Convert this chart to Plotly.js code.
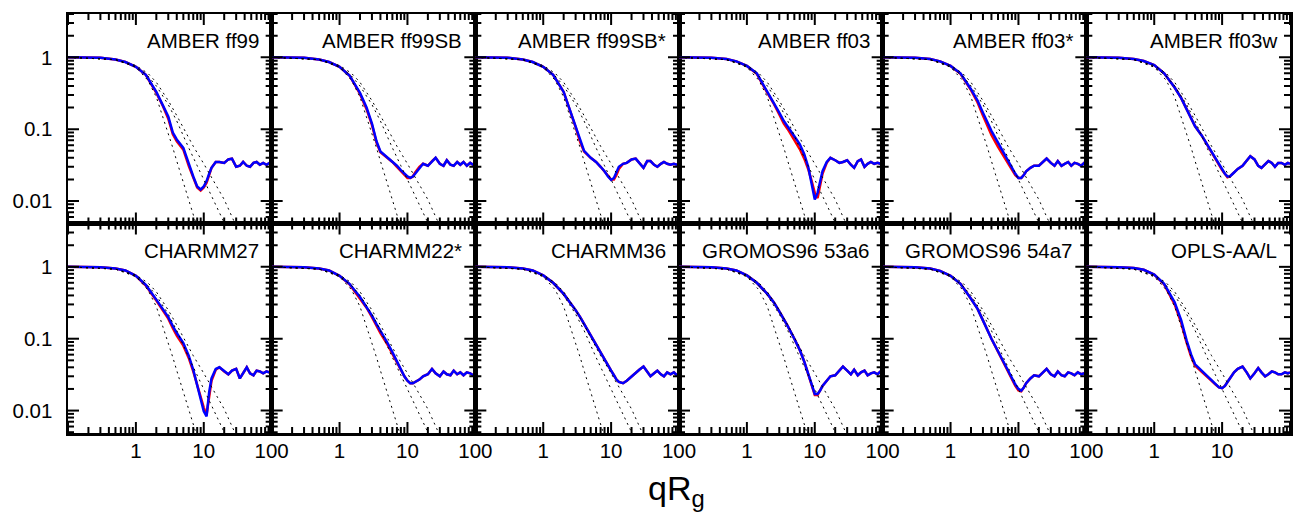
<!DOCTYPE html>
<html>
<head>
<meta charset="utf-8">
<script src="https://cdn.plot.ly/plotly-3.0.1.min.js"></script>
<style>html,body{margin:0;padding:0;background:#fff;}#chart{width:1301px;height:513px;}</style>
</head>
<body>
<div id="chart"></div>
<script>
// ---- data (qRg grid, I(q)/I(0)) ----
const qrg = [0.1,0.3,0.5,0.7,1,1.4,2,2.5,3,3.5,4,5,6,7,8,9,10,11,12,13,15,17,20,23,26,30,34,38,43,48,54,60,67,75,84,93,100];

const panelNames = ['AMBER ff99','AMBER ff99SB','AMBER ff99SB*','AMBER ff03','AMBER ff03*','AMBER ff03w',
                    'CHARMM27','CHARMM22*','CHARMM36','GROMOS96 53a6','GROMOS96 54a7','OPLS-AA/L'];

const ff99_blue   = [1,0.99,0.93,0.86,0.74,0.57,0.33,0.22,0.15,0.09,0.072,0.055,0.033,0.022,0.016,0.0145,0.016,0.019,0.024,0.029,0.035,0.035,0.034,0.038,0.039,0.030,0.031,0.035,0.031,0.030,0.034,0.035,0.032,0.034,0.032,0.034,0.033];
const ff99_red    = [1,0.99,0.93,0.86,0.74,0.57,0.32,0.21,0.14,0.085,0.068,0.052,0.031,0.021,0.0155,0.014,0.0155,0.018,0.023,0.029,0.035,0.035,0.034,0.038,0.039,0.030,0.031,0.035,0.031,0.030,0.034,0.035,0.032,0.034,0.032,0.034,0.033];
const ff99SB_blue = [1,0.99,0.93,0.86,0.74,0.56,0.32,0.2,0.12,0.068,0.049,0.041,0.036,0.031,0.027,0.024,0.022,0.021,0.022,0.024,0.029,0.033,0.031,0.036,0.040,0.033,0.031,0.037,0.032,0.031,0.035,0.032,0.035,0.031,0.034,0.032,0.033];
const ff99SB_red  = [1,0.99,0.93,0.86,0.74,0.56,0.31,0.19,0.115,0.065,0.048,0.041,0.035,0.030,0.026,0.023,0.021,0.021,0.022,0.025,0.030,0.033,0.031,0.036,0.040,0.033,0.031,0.037,0.032,0.031,0.035,0.032,0.035,0.031,0.034,0.032,0.033];
const ff99SBs_blue= [1,0.99,0.93,0.86,0.74,0.57,0.33,0.18,0.11,0.068,0.05,0.04,0.035,0.03,0.026,0.022,0.0197,0.021,0.025,0.03,0.033,0.034,0.038,0.039,0.034,0.029,0.036,0.036,0.032,0.03,0.033,0.035,0.033,0.032,0.033,0.032,0.033];
const ff99SBs_red = [1,0.99,0.93,0.86,0.74,0.57,0.33,0.18,0.107,0.066,0.049,0.04,0.035,0.03,0.026,0.023,0.020,0.020,0.023,0.028,0.033,0.034,0.038,0.039,0.034,0.029,0.036,0.036,0.032,0.03,0.033,0.035,0.033,0.032,0.033,0.032,0.033];
const ff03_blue   = [1,0.99,0.95,0.88,0.76,0.6,0.33,0.235,0.17,0.13,0.11,0.08,0.062,0.045,0.03,0.018,0.0105,0.013,0.019,0.026,0.035,0.04,0.037,0.034,0.035,0.037,0.032,0.029,0.036,0.038,0.03,0.033,0.035,0.033,0.034,0.033,0.034];
const ff03_red    = [1,0.99,0.95,0.88,0.76,0.59,0.32,0.225,0.16,0.12,0.1,0.072,0.053,0.039,0.028,0.019,0.013,0.011,0.016,0.024,0.034,0.04,0.037,0.034,0.035,0.037,0.032,0.029,0.036,0.038,0.03,0.033,0.035,0.033,0.034,0.033,0.034];
const ff03s_blue  = [1,0.99,0.95,0.88,0.76,0.6,0.36,0.25,0.17,0.125,0.095,0.065,0.047,0.036,0.029,0.024,0.021,0.021,0.023,0.026,0.029,0.031,0.031,0.035,0.039,0.034,0.031,0.036,0.031,0.033,0.035,0.031,0.034,0.033,0.031,0.034,0.032];
const ff03s_red   = [1,0.99,0.95,0.88,0.76,0.59,0.35,0.235,0.155,0.11,0.083,0.057,0.043,0.034,0.028,0.023,0.021,0.021,0.023,0.026,0.029,0.031,0.031,0.035,0.039,0.034,0.031,0.036,0.031,0.033,0.035,0.031,0.034,0.033,0.031,0.034,0.032];
const ff03w_blue  = [1,0.99,0.95,0.89,0.78,0.6,0.38,0.27,0.19,0.14,0.11,0.082,0.062,0.048,0.039,0.032,0.028,0.024,0.022,0.022,0.025,0.028,0.031,0.036,0.042,0.038,0.031,0.029,0.032,0.036,0.034,0.030,0.034,0.034,0.032,0.034,0.033];
const ff03w_red   = [1,0.99,0.95,0.89,0.78,0.6,0.38,0.27,0.19,0.14,0.11,0.082,0.062,0.048,0.039,0.032,0.027,0.0235,0.0215,0.022,0.025,0.028,0.031,0.036,0.042,0.038,0.031,0.029,0.032,0.036,0.034,0.030,0.034,0.034,0.032,0.034,0.033];
const c27_blue    = [1,0.99,0.95,0.89,0.75,0.56,0.35,0.26,0.2,0.15,0.12,0.087,0.058,0.037,0.022,0.014,0.0098,0.0083,0.018,0.028,0.038,0.04,0.035,0.032,0.036,0.038,0.028,0.033,0.04,0.033,0.031,0.036,0.035,0.033,0.035,0.034,0.036];
const c27_red     = [1,0.99,0.95,0.89,0.75,0.55,0.34,0.25,0.19,0.14,0.11,0.08,0.054,0.035,0.022,0.015,0.011,0.0088,0.015,0.026,0.037,0.04,0.035,0.032,0.036,0.038,0.028,0.033,0.04,0.033,0.031,0.036,0.035,0.033,0.035,0.034,0.036];
const c22s_blue   = [1,0.99,0.95,0.89,0.75,0.58,0.38,0.28,0.21,0.16,0.13,0.09,0.065,0.048,0.037,0.03,0.026,0.024,0.024,0.025,0.027,0.030,0.032,0.038,0.033,0.030,0.035,0.032,0.031,0.036,0.032,0.034,0.031,0.034,0.033,0.031,0.033];
const c22s_red    = [1,0.99,0.95,0.89,0.75,0.57,0.36,0.27,0.2,0.15,0.12,0.085,0.062,0.047,0.036,0.03,0.026,0.024,0.024,0.025,0.027,0.030,0.032,0.038,0.033,0.030,0.035,0.032,0.031,0.036,0.032,0.034,0.031,0.034,0.033,0.031,0.033];
const c36_blue    = [1,0.99,0.95,0.89,0.76,0.6,0.42,0.32,0.25,0.2,0.16,0.115,0.085,0.065,0.052,0.043,0.036,0.031,0.027,0.025,0.024,0.026,0.030,0.033,0.037,0.041,0.035,0.030,0.033,0.036,0.032,0.030,0.034,0.032,0.034,0.031,0.033];
const c36_red     = [1,0.99,0.95,0.89,0.76,0.6,0.42,0.32,0.25,0.2,0.16,0.115,0.085,0.065,0.052,0.043,0.036,0.031,0.027,0.025,0.024,0.026,0.030,0.033,0.037,0.041,0.035,0.030,0.033,0.036,0.032,0.030,0.034,0.032,0.034,0.031,0.033];
const g53_blue    = [1,0.99,0.95,0.89,0.76,0.6,0.42,0.32,0.24,0.19,0.15,0.1,0.07,0.048,0.033,0.023,0.017,0.017,0.019,0.022,0.026,0.030,0.031,0.036,0.041,0.036,0.032,0.037,0.031,0.034,0.036,0.031,0.033,0.034,0.032,0.035,0.033];
const g53_red     = [1,0.99,0.95,0.89,0.76,0.6,0.42,0.32,0.24,0.19,0.15,0.1,0.07,0.048,0.033,0.023,0.0165,0.0165,0.019,0.022,0.026,0.030,0.031,0.036,0.041,0.036,0.032,0.037,0.031,0.034,0.036,0.031,0.033,0.034,0.032,0.035,0.033];
const g54_blue    = [1,0.99,0.95,0.88,0.75,0.58,0.36,0.26,0.18,0.13,0.1,0.067,0.048,0.036,0.028,0.023,0.02,0.019,0.021,0.024,0.028,0.031,0.030,0.034,0.038,0.032,0.030,0.035,0.031,0.030,0.034,0.033,0.031,0.034,0.032,0.033,0.032];
const g54_red     = [1,0.99,0.95,0.88,0.75,0.58,0.36,0.26,0.18,0.13,0.1,0.066,0.047,0.035,0.027,0.022,0.019,0.0185,0.021,0.024,0.028,0.031,0.030,0.034,0.038,0.032,0.030,0.035,0.031,0.030,0.034,0.033,0.031,0.034,0.032,0.033,0.032];
const opls_blue   = [1,0.99,0.96,0.91,0.78,0.58,0.32,0.18,0.095,0.06,0.044,0.036,0.031,0.027,0.024,0.021,0.0205,0.022,0.025,0.028,0.034,0.038,0.041,0.034,0.028,0.033,0.039,0.034,0.03,0.032,0.035,0.034,0.032,0.032,0.034,0.033,0.034];
const opls_red    = [1,0.99,0.96,0.91,0.78,0.57,0.30,0.165,0.088,0.056,0.042,0.035,0.030,0.026,0.023,0.021,0.0205,0.022,0.025,0.028,0.034,0.038,0.041,0.034,0.028,0.033,0.039,0.034,0.03,0.032,0.035,0.034,0.032,0.032,0.034,0.033,0.034];

const blueSeries = [ff99_blue,ff99SB_blue,ff99SBs_blue,ff03_blue,ff03s_blue,ff03w_blue,c27_blue,c22s_blue,c36_blue,g53_blue,g54_blue,opls_blue];
const redSeries  = [ff99_red,ff99SB_red,ff99SBs_red,ff03_red,ff03s_red,ff03w_red,c27_red,c22s_red,c36_red,g53_red,g54_red,opls_red];

// reference curves (dotted), same in every panel
const refA_x = [0.1,0.5,1,1.5,2,2.5,3,3.5,4,5,6,7,8];
const refA_y = [1,0.93,0.73,0.48,0.28,0.15,0.09,0.055,0.036,0.018,0.0105,0.0065,0.0043];
const refB_x = [0.1,0.5,1,1.5,2,3,4,5,6,8,10,13,16,20,25];
const refB_y = [1,0.93,0.74,0.55,0.4,0.22,0.13,0.08,0.055,0.031,0.02,0.012,0.0078,0.005,0.0032];
const refC_x = [0.1,0.5,1,1.5,2,3,4,5,7,10,14,20,28,35];
const refC_y = [1,0.93,0.77,0.6,0.45,0.25,0.155,0.105,0.058,0.033,0.019,0.0105,0.0052,0.0036];

// tick labels
const xTickVals = [1,10,100];
const xTickText = ['1','10','100'];
const yTickVals = [0.01,0.1,1];
const yTickText = ['0.01','0.1','1'];

// ---- build ----
const FONT = 'Liberation Sans, Arial, Helvetica, sans-serif';
const X_RANGE = [-1, 2], Y_RANGE = [-2.312, 0.603];
const M = {l:68, r:11, t:14, b:80};
const PW = 1301 - M.l - M.r, PH = 513 - M.t - M.b;
const traces = [];
const layout = {
  width:1301, height:513,
  margin:{l:M.l, r:M.r, t:M.t, b:M.b, pad:0},
  paper_bgcolor:'#fff', plot_bgcolor:'#fff',
  showlegend:false,
  font:{family:FONT, color:'#000', size:20},
  annotations:[]
};

// tick positions (log10 units) along the axes: decades and 2..9 subdivisions inside the range
function logTicks(range){
  const major=[], minor=[];
  for(let e=Math.floor(range[0]); e<=Math.ceil(range[1]); e++){
    for(let d=1; d<=9; d++){
      const lv = e + Math.log10(d);
      if(lv < range[0]-1e-9 || lv > range[1]+1e-9) continue;
      (d===1?major:minor).push(lv);
    }
  }
  return {major, minor};
}
const xT = logTicks(X_RANGE), yT = logTicks(Y_RANGE);
const MAJ = 11, MIN = 6;
// tick length converted from pixels to log10 units of each axis
const xDecPerPx = (X_RANGE[1]-X_RANGE[0]) / (PW/6);
const yDecPerPx = (Y_RANGE[1]-Y_RANGE[0]) / (PH/2);

for(let i=0;i<12;i++){
  const n = i+1;
  const col = i%6, row = Math.floor(i/6);
  const xa = 'x'+(n===1?'':n), ya = 'y'+(n===1?'':n);
  traces.push({x:qrg, y:redSeries[i], xaxis:xa, yaxis:ya, mode:'lines', line:{color:'#ff0000', width:2.5}});
  traces.push({x:qrg, y:blueSeries[i], xaxis:xa, yaxis:ya, mode:'lines', line:{color:'#0000ff', width:2.5}});
  const refs = [[refA_x,refA_y],[refB_x,refB_y],[refC_x,refC_y]];
  refs.forEach(r=>traces.push({x:r[0], y:r[1], xaxis:xa, yaxis:ya, mode:'lines', hoverinfo:'skip',
      line:{color:'#000', width:1, dash:'2px,4px'}}));

  // inside ticks on all four sides, drawn through this panel's own log axes
  [[MAJ,xT.major,yT.major],[MIN,xT.minor,yT.minor]].forEach(([len,xv,yv])=>{
    const tx=[], ty=[];
    const hy = len*yDecPerPx, hx = len*xDecPerPx;
    xv.forEach(lv=>{
      tx.push(10**lv,10**lv,null,10**lv,10**lv,null);
      ty.push(10**Y_RANGE[0],10**(Y_RANGE[0]+hy),null,10**Y_RANGE[1],10**(Y_RANGE[1]-hy),null);
    });
    yv.forEach(lv=>{
      tx.push(10**X_RANGE[0],10**(X_RANGE[0]+hx),null,10**X_RANGE[1],10**(X_RANGE[1]-hx),null);
      ty.push(10**lv,10**lv,null,10**lv,10**lv,null);
    });
    traces.push({x:tx, y:ty, xaxis:xa, yaxis:ya, mode:'lines', hoverinfo:'skip', connectgaps:false,
      line:{color:'#000', width:2}});
  });

  const xd = [col/6,(col+1)/6], yd = row===0?[0.5,1]:[0,0.5];
  const common = {showline:true, linecolor:'#000', linewidth:2.5, mirror:true, ticks:'',
    showgrid:false, zeroline:false, fixedrange:true, tickmode:'array',
    tickfont:{family:FONT, size:20.5, color:'#000'}};
  layout['xaxis'+(n===1?'':n)] = Object.assign({}, common, {
    type:'log', range:X_RANGE.slice(), domain:xd, anchor:ya,
    tickvals:xTickVals, ticktext:xTickText, showticklabels:row===1, ticklabelstandoff:-2
  });
  layout['yaxis'+(n===1?'':n)] = Object.assign({}, common, {
    type:'log', range:Y_RANGE.slice(), domain:yd, anchor:xa,
    tickvals:yTickVals, ticktext:yTickText, showticklabels:col===0, ticklabelstandoff:9
  });

  layout.annotations.push({text:panelNames[i], xref:xa+' domain', yref:ya+' domain', x:1, y:1,
    xanchor:'right', yanchor:'top', xshift:-11, yshift:-13, showarrow:false,
    font:{family:FONT, size:20.5, color:'#000'}});
}
layout.annotations.push({text:'qR<sub>g</sub>', xref:'paper', yref:'paper', x:0.498, y:-0.08,
  xanchor:'center', yanchor:'top', showarrow:false, font:{family:FONT, size:34, color:'#000'}});

Plotly.newPlot('chart', traces, layout, {staticPlot:true, displayModeBar:false});
</script>
</body>
</html>
